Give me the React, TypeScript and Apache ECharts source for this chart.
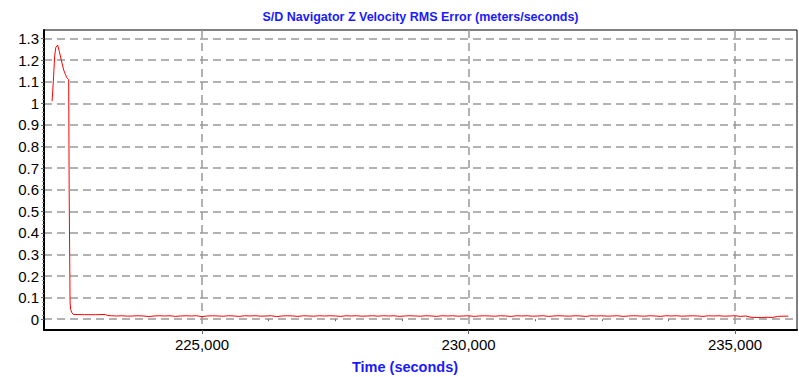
import React, { useEffect, useRef } from "react";
import * as echarts from "echarts";

const spikeTimes = [
  222187, 222211, 222236, 222258, 222292, 222324, 222361, 222405, 222437, 222461,
  222499, 222508, 222525, 222536, 222559, 222587, 222800, 223000, 223187, 223224,
];
const spikeValues = [
  1.01, 1.1, 1.22, 1.26, 1.27, 1.24, 1.2, 1.155, 1.135, 1.12,
  1.11, 0.6, 0.08, 0.045, 0.03, 0.022, 0.021, 0.021, 0.022, 0.017,
];

const flatStart = 223300;
const flatStep = 100;
const flatValues = [
  0.016, 0.015, 0.016, 0.014, 0.015, 0.016, 0.015, 0.012, 0.015, 0.016,
  0.015, 0.016, 0.013, 0.015, 0.016, 0.015, 0.016, 0.012, 0.015, 0.016,
  0.015, 0.014, 0.016, 0.015, 0.013, 0.016, 0.015, 0.016, 0.014, 0.015,
  0.016, 0.012, 0.015, 0.016, 0.015, 0.013, 0.016, 0.015, 0.014, 0.016,
  0.015, 0.016, 0.015, 0.013, 0.016, 0.015, 0.016, 0.014, 0.015, 0.016,
  0.014, 0.016, 0.015, 0.016, 0.013, 0.015, 0.016, 0.015, 0.014, 0.016,
  0.015, 0.013, 0.016, 0.015, 0.016, 0.014, 0.015, 0.016, 0.013, 0.015,
  0.016, 0.015, 0.014, 0.016, 0.015, 0.013, 0.016, 0.015, 0.016, 0.014,
  0.015, 0.016, 0.013, 0.015, 0.016, 0.015, 0.014, 0.016, 0.015, 0.013,
  0.016, 0.015, 0.016, 0.014, 0.015, 0.016, 0.013, 0.015, 0.016, 0.015,
  0.014, 0.016, 0.015, 0.013, 0.016, 0.015, 0.016, 0.014, 0.015, 0.016,
  0.015, 0.013, 0.016, 0.015, 0.016, 0.014, 0.015, 0.016, 0.013, 0.015,
  0.009, 0.008, 0.008, 0.009, 0.008, 0.013, 0.014, 0.014,
];

const xMajorTicks = [225000, 230000, 235000];
const xMinorTicks = [226250, 227500, 228750, 231250, 232500, 233750];
const yMajorTicks = [0, 0.1, 0.2, 0.3, 0.4, 0.5, 0.6, 0.7, 0.8, 0.9, 1, 1.1, 1.2, 1.3];

const TITLE = "S/D Navigator Z Velocity RMS Error (meters/seconds)";
const X_NAME = "Time (seconds)";

const FONT = "'Liberation Sans', Arial, Helvetica, sans-serif";
const BLUE = "#1a1aff";

export default function App() {
  const ref = useRef<HTMLDivElement>(null);

  useEffect(() => {
    if (!ref.current) return;
    const chart = echarts.init(ref.current, null, { renderer: "svg" });

    const data: number[][] = [];
    spikeTimes.forEach((t, i) => data.push([t, spikeValues[i]]));
    flatValues.forEach((v, i) => data.push([flatStart + i * flatStep, v]));

    const yMinor: number[] = [];
    for (let i = 0; i < yMajorTicks.length - 1; i++) {
      const a = yMajorTicks[i];
      const b = yMajorTicks[i + 1];
      for (let k = 1; k < 5; k++) yMinor.push(a + ((b - a) * k) / 5);
    }

    const xMin = 222036;
    const xMax = 236163;
    const yMin = -0.05;
    const yMax = 1.34;

    chart.setOption({
      animation: false,
      backgroundColor: "#fff",
      title: {
        text: TITLE,
        left: 420.5,
        top: 10,
        padding: 0,
        textAlign: "center",
        textStyle: { fontSize: 12.5, fontWeight: "bold", color: BLUE, fontFamily: FONT },
      },
      graphic: [
        {
          type: "text",
          x: 405,
          y: 367,
          style: {
            text: X_NAME,
            fontSize: 14.5,
            fontWeight: "bold",
            fill: BLUE,
            fontFamily: FONT,
            textAlign: "center",
            textVerticalAlign: "middle",
          },
        },
      ],
      grid: {
        left: 44,
        right: 2,
        top: 30,
        bottom: 47,
        show: true,
        borderColor: "#000",
        borderWidth: 1,
        containLabel: false,
        outerBoundsMode: "none",
      },
      xAxis: [
        {
          type: "value",
          min: xMin,
          max: xMax,
          position: "bottom",
          axisLine: { show: true, onZero: false, lineStyle: { color: "#000", width: 2 } },
          axisTick: { show: true, customValues: xMajorTicks, length: 4, lineStyle: { color: "#666" } },
          axisLabel: {
            customValues: xMajorTicks,
            formatter: (v: number) => v.toLocaleString("en-US"),
            fontSize: 15,
            color: "#000",
            margin: 7,
            fontFamily: FONT,
          },
          splitLine: { show: true, lineStyle: { type: [8, 5], color: "#999", width: 1.5 } },
        },
        {
          type: "value",
          min: xMin,
          max: xMax,
          position: "bottom",
          axisLine: { show: false },
          axisTick: { show: true, customValues: xMinorTicks, length: 2, lineStyle: { color: "#666" } },
          axisLabel: { show: false },
          splitLine: { show: false },
        },
      ],
      yAxis: [
        {
          type: "value",
          min: yMin,
          max: yMax,
          position: "left",
          axisLine: { show: true, onZero: false, lineStyle: { color: "#000", width: 2 } },
          axisTick: { show: true, customValues: yMajorTicks, length: 3, lineStyle: { color: "#666" } },
          axisLabel: {
            customValues: yMajorTicks,
            fontSize: 15,
            color: "#000",
            margin: 5,
            fontFamily: FONT,
          },
          splitLine: { show: true, lineStyle: { type: [8, 5], color: "#999", width: 1.5 } },
        },
        {
          type: "value",
          min: yMin,
          max: yMax,
          position: "left",
          axisLine: { show: false },
          axisTick: { show: true, customValues: yMinor, length: 2, lineStyle: { color: "#888" } },
          axisLabel: { show: false },
          splitLine: { show: false },
        },
      ],
      series: [
        {
          type: "line",
          xAxisIndex: 0,
          yAxisIndex: 0,
          data,
          showSymbol: false,
          symbol: "none",
          lineStyle: { color: "#ff0000", width: 1 },
          z: 5,
        },
      ],
    });

    return () => chart.dispose();
  }, []);

  return (
    <div
      ref={ref}
      style={{ position: "absolute", left: 0, top: 0, width: 799, height: 377 }}
    />
  );
}
